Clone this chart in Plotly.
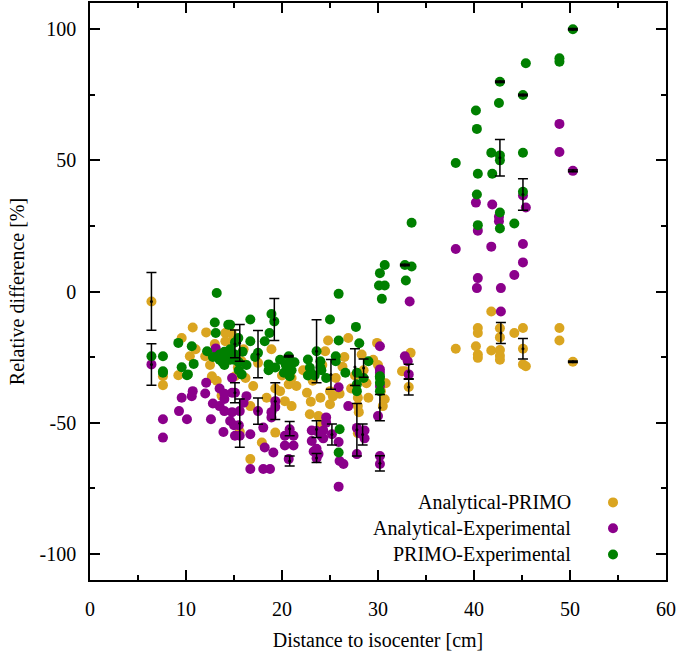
import plotly.graph_objects as go

# ---------------- data ----------------
ap_x = [6.4, 7.6, 7.6, 9.2, 9.55, 10.4, 10.7, 12.0, 12.1, 12.7, 12.7, 13.2, 13.7, 14.1, 14.1,
        14.75, 14.75, 15.1, 15.8, 16.7, 15.6, 16.7, 17.5, 17.9, 18.4, 18.9, 19.3, 19.3, 20.3, 20.7,
        21.0, 22.6, 22.9, 23.8, 24.0, 24.1, 24.5, 24.8, 25.0, 25.0, 25.3, 26.3, 26.9, 27.6, 27.9,
        27.9, 28.0, 27.9, 28.5, 29.0, 29.9, 30.5, 30.7, 32.5, 32.8, 33.2, 33.4, 38.1, 40.2, 40.4,
        40.4, 40.4, 40.4, 41.8, 41.8, 42.7, 42.7, 42.7, 42.7, 42.7, 44.2, 45.1, 45.1, 45.1, 45.4,
        48.9, 48.9, 50.3,
        11.0, 13.0, 14.5, 15.4, 16.2, 17.0, 20.0, 21.5, 22.2, 23.2, 24.2, 25.6, 26.5, 27.2,
        28.3, 29.5, 30.3, 30.8, 12.5, 16.0, 19.8, 21.0, 23.0, 26.0, 28.8, 30.0]
ap_y = [-3.8, -32.3, -35.7, -31.9, -17.7, -24.7, -13.7, -24.7, -15.6, -32.3, -33.0, -34.0, -39.7, -15.8, -19.0,
        -15.8, -19.0, -32.3, -26.6, -43.7, -53.5, -63.9, -27.2, -57.6, -40.5, -22.0, -53.8, -37.0, -41.8, -35.4,
        -43.7, -38.6, -46.8, -47.5, -40.5, -51.0, -22.8, -18.7, -38.0, -43.0, -40.0, -28.7, -17.7, -32.0, -40.5,
        -43.7, -46.0, -54.0, -30.0, -40.5, -19.6, -43.7, -41.1, -30.4, -30.4, -36.4, -23.4, -21.8, -20.9, -13.9,
        -15.8, -24.0, -25.3, -7.6, -22.5, -14.0, -17.5, -22.3, -24.5, -26.0, -15.8, -13.9, -21.8, -27.8, -28.5,
        -13.9, -18.7, -26.8,
        -22.0, -20.0, -26.0, -29.0, -33.0, -36.0, -32.0, -36.0, -30.0, -34.0, -28.0, -33.0, -25.0, -37.0,
        -24.0, -26.0, -38.0, -35.0, -28.0, -22.0, -38.0, -33.0, -42.0, -39.0, -35.0, -28.0]

ae_x = [6.4, 7.6, 7.6, 9.27, 9.55, 10.1, 10.6, 10.7, 12.0, 12.1, 12.6, 12.8, 13.1, 13.5, 13.5,
        13.9, 14.0, 14.0, 14.0, 14.6, 14.8, 14.8, 14.8, 15.0, 15.1, 15.1, 15.5, 15.6, 15.6, 16.0,
        16.3, 16.7, 16.7, 17.5, 18.05, 18.05, 18.2, 18.75, 18.9, 18.9, 19.1, 19.3, 19.3, 20.3, 20.3,
        20.7, 20.8, 21.2, 21.2, 23.1, 23.1, 23.3, 23.6, 23.6, 23.6, 23.8, 24.1, 24.3, 24.3, 24.6,
        24.6, 25.2, 25.9, 25.9, 25.9, 26.0, 26.4, 26.9, 27.8, 27.8, 28.1, 28.6, 28.6, 30.0, 30.2,
        30.2, 30.2, 30.2, 30.2, 30.2, 32.8, 33.1, 33.2, 33.3, 38.1, 40.2, 40.3, 40.4, 40.4, 41.8,
        41.9, 42.6, 42.6, 42.8, 42.8, 44.2, 45.1, 45.1, 45.1, 45.4, 48.9, 48.9, 50.3]
ae_y = [-27.8, -48.7, -55.7, -45.6, -40.5, -48.7, -39.9, -38.0, -38.9, -34.8, -48.7, -42.7, -21.7, -43.7, -37.0,
        -53.6, -45.6, -41.0, -39.0, -49.4, -33.0, -38.6, -46.0, -51.0, -38.6, -55.0, -51.0, -45.6, -55.0, -42.4,
        -39.9, -54.4, -67.7, -45.6, -51.9, -67.7, -59.5, -67.7, -46.0, -48.0, -61.4, -41.8, -44.0, -55.0, -58.7,
        -63.9, -52.5, -55.0, -58.7, -53.0, -57.0, -61.0, -53.2, -63.6, -60.0, -62.0, -55.0, -53.0, -56.0, -48.0,
        -50.0, -54.4, -36.5, -57.4, -74.4, -64.6, -65.8, -43.7, -52.0, -62.0, -54.0, -56.0, -53.0, -47.5, -20.9,
        -29.7, -31.0, -36.0, -62.7, -65.8, -24.7, -26.6, -31.6, -3.8, 16.2, 33.9, 1.3, 5.1, 23.2, 17.1,
        33.2, 28.5, 26.8, 1.3, -7.6, 6.3, 36.6, 18.1, 11.1, 32.0, 63.9, 53.2, 46.0]

pe_x = [6.4, 7.6, 7.6, 7.6, 9.2, 9.55, 10.1, 10.2, 10.6, 10.8, 12.2, 13.0, 13.1, 13.2, 13.5,
        13.5, 14.0, 14.0, 14.4, 14.6, 14.6, 14.6, 15.1, 15.1, 15.45, 15.5, 15.5, 15.8, 16.7, 16.7,
        17.5, 18.2, 18.6, 18.6, 18.7, 18.9, 19.2, 19.3, 20.4, 20.7, 20.8, 20.8, 21.0, 22.7, 22.7,
        22.9, 23.4, 23.6, 24.0, 24.0, 24.1, 25.0, 25.6, 25.6, 25.9, 25.9, 25.9, 26.0, 26.6, 27.7,
        27.8, 27.8, 27.8, 28.05, 29.0, 30.1, 30.2, 30.2, 30.2, 30.2, 30.2, 30.4, 30.7, 30.7, 32.8,
        32.9, 33.5, 33.5, 38.1, 40.2, 40.3, 40.3, 40.4, 40.4, 41.8, 41.9, 42.6, 42.7, 42.7, 42.7,
        42.7, 42.7, 44.2, 45.1, 45.1, 45.1, 45.4, 48.9, 48.9, 50.3,
        12.8, 13.8, 14.3, 15.0, 15.9, 16.3, 17.2, 19.8, 20.2, 21.3, 23.0, 24.6, 28.5]
pe_y = [-24.7, -24.7, -30.4, -31.0, -19.6, -28.9, -31.9, -31.6, -20.9, -27.6, -22.8, -11.8, -15.8, -0.6, -24.0,
        -26.0, -23.0, -28.0, -12.7, -12.7, -22.0, -26.0, -19.4, -24.0, -17.7, -27.0, -30.0, -31.6, -10.7, -19.0,
        -23.4, -19.0, -27.8, -30.0, -15.8, -8.6, -11.4, -29.0, -28.0, -24.7, -27.0, -32.3, -30.0, -25.9, -32.0,
        -29.1, -32.0, -22.8, -26.6, -29.0, -30.0, -10.7, -24.7, -26.6, -0.9, -18.7, -61.4, -52.5, -31.0, -13.5,
        -31.0, -35.4, -38.0, -19.7, -26.6, 2.3, 7.0, -32.9, -32.3, -34.8, -38.0, -2.8, 10.1, 2.3, 10.1,
        4.2, 26.2, 9.5, 49.0, 69.0, 62.0, 37.0, 44.9, 25.3, 52.9, 44.9, 71.9, 80.0, 51.9, 50.0,
        30.1, 24.0, 25.9, 74.9, 52.9, 38.0, 87.0, 88.9, 87.6, 100.0,
        -25.0, -27.0, -25.0, -26.0, -23.0, -28.0, -25.0, -26.0, -31.0, -27.0, -31.0, -33.0, -33.0]

# error bars: x, centre, half-width
err_x = [6.4, 6.4, 15.6, 15.1, 15.1, 15.6, 17.5, 17.5, 19.2, 19.3, 20.7, 20.8, 20.8, 23.6, 23.6,
         23.6, 25.1, 25.2, 27.6, 28.5, 27.8, 28.4, 30.2, 30.2, 33.2, 33.2, 32.8, 42.7, 42.7, 42.8,
         45.1, 45.1, 45.1, 50.3, 50.3, 50.3]
err_y = [-3.8, -27.8, -19.6, -20.0, -38.6, -50.2, -23.9, -45.6, -10.7, -41.8, -24.7, -52.3, -64.6, -22.8, -52.5,
         -63.5, -31.6, -54.5, -28.8, -29.2, -52.7, -54.5, -44.3, -65.5, -30.6, -36.4, 10.1, 51.0, 80.0, -15.8,
         37.0, 74.9, -21.8, 100.0, 46.0, -26.8]
err_d = [11.0, 7.9, 7.0, 5.3, 3.8, 9.2, 9.0, 5.0, 8.0, 7.0, 0.3, 2.7, 1.9, 12.0, 3.2,
         1.7, 5.7, 4.0, 7.0, 3.5, 10.0, 4.0, 5.0, 2.9, 2.9, 3.1, 0.3, 7.0, 0.3, 4.0,
         6.0, 0.3, 3.9, 0.3, 0.3, 0.3]

# tick labels
x_ticks = [0, 10, 20, 30, 40, 50, 60]
x_ticklabels = ["0", "10", "20", "30", "40", "50", "60"]
y_ticks = [-100, -50, 0, 50, 100]
y_ticklabels = ["-100", "-50", "0", "50", "100"]

series = [
    ("Analytical-PRIMO", ap_x, ap_y, "#DAA520"),
    ("Analytical-Experimental", ae_x, ae_y, "#8B008B"),
    ("PRIMO-Experimental", pe_x, pe_y, "#008000"),
]

FONT = "'Liberation Serif', 'Times New Roman', 'DejaVu Serif', serif"
fig = go.Figure()
for name, xs, ys, col in series:
    fig.add_trace(go.Scatter(x=xs, y=ys, mode="markers", name=name,
                             marker=dict(size=10, color=col, line=dict(width=0)),
                             showlegend=False))

fig.add_trace(go.Scatter(x=err_x, y=err_y, mode="markers", showlegend=False,
                         marker=dict(size=3, color="black"),
                         error_y=dict(type="data", array=err_d, visible=True,
                                      color="black", thickness=1.5, width=5)))

axis_common = dict(showline=True, linecolor="black", linewidth=1.5, mirror="allticks",
                   ticks="inside", ticklen=10, tickwidth=1.5, tickcolor="black",
                   showgrid=False, zeroline=False, tickmode="array",
                   tickfont=dict(family=FONT, size=20, color="black"))

fig.update_xaxes(range=[0, 60], tickvals=x_ticks, ticktext=x_ticklabels,
                 minor=dict(tickmode="linear", tick0=0, dtick=5, ticks="inside", ticklen=5,
                            tickwidth=1.5, tickcolor="black", showgrid=False),
                 title=dict(text="Distance to isocenter [cm]", font=dict(family=FONT, size=20, color="black"), standoff=14),
                 ticklabelstandoff=10, **axis_common)
fig.update_yaxes(range=[-110, 110], tickvals=y_ticks, ticktext=y_ticklabels,
                 minor=dict(tickmode="linear", tick0=0, dtick=25, ticks="inside", ticklen=5,
                            tickwidth=1.5, tickcolor="black", showgrid=False),
                 title=dict(text="Relative difference [%]", font=dict(family=FONT, size=20, color="black"), standoff=10),
                 ticklabelstandoff=8, **axis_common)

# legend drawn manually (text right-aligned, symbol to the right)
leg_y = [0.1345, 0.0896, 0.0442]
annotations = []
shapes = []
for (name, _, _, col), yy in zip(series, leg_y):
    annotations.append(dict(x=0.8385, y=yy, xref="paper", yref="paper", text=name,
                            showarrow=False, xanchor="right", yanchor="middle",
                            font=dict(family=FONT, size=20, color="black")))
    shapes.append(dict(type="circle", xref="paper", yref="paper", xsizemode="pixel", ysizemode="pixel",
                       xanchor=0.908, yanchor=yy, x0=-5, x1=5, y0=-5, y1=5,
                       fillcolor=col, line=dict(width=0)))

fig.update_layout(width=682, height=660, margin=dict(l=90, r=16, t=1, b=80),
                  plot_bgcolor="white", paper_bgcolor="white",
                  annotations=annotations, shapes=shapes,
                  font=dict(family=FONT, size=20, color="black"))

fig.write_html("out.html", config={"displayModeBar": False},
               post_script="document.body.style.margin='0';document.body.style.padding='0';")
